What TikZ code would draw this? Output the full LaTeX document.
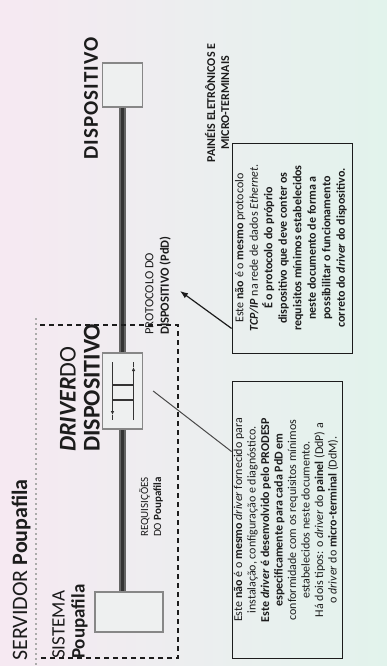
\documentclass[tikz,border=0pt]{standalone}
\usepackage{fontspec}
\setmainfont{Carlito}
\newfontfamily\spc[LetterSpace=5]{Carlito}
\usetikzlibrary{arrows.meta}
\definecolor{bgl}{RGB}{246,233,242}
\definecolor{bgr}{RGB}{226,243,236}
\definecolor{ink}{RGB}{28,28,28}
\definecolor{linedark}{RGB}{52,52,52}
\definecolor{lineout}{RGB}{100,100,100}
\definecolor{boxgray}{RGB}{135,135,135}
\definecolor{boxfill}{RGB}{238,240,240}
\begin{document}
\begin{tikzpicture}[x=1pt,y=-1pt,
  lbl/.style={rotate=90, inner sep=0pt, text=ink},
  devbox/.style={draw=boxgray, line width=1.3pt, fill=boxfill, inner sep=0pt},
  notebox/.style={draw=ink, line width=0.9pt, inner sep=0pt},
  notetext/.style={rotate=90, inner sep=0pt, text=ink, align=center},
  dashbox/.style={draw=ink, line width=1.8pt, dash pattern=on 5pt off 4pt},
  faintdot/.style={draw=boxgray!70, line width=1.2pt, dash pattern=on 2pt off 3pt},
  hline/.style={draw=linedark, line width=1.2pt},
  pointer/.style={draw=ink, line width=1.2pt},
]
\useasboundingbox (0,0) rectangle (387,666);
\shade[left color=bgl, right color=bgr] (0,0) rectangle (387,666);

% device boxes
\node[devbox, minimum width=40pt, minimum height=44pt] (dev) at (122.5,85) {};
\node[devbox, minimum width=68pt, minimum height=40pt] (sys) at (129,612) {};
% main line
\draw[lineout, line width=7pt] (dev.south) -- (dev.south |- sys.north);
\draw[linedark, line width=3.5pt] (dev.south) -- (dev.south |- sys.north);
% driver box
\node[devbox, minimum width=40pt, minimum height=76pt] (drv) at (122.5,391) {};
\draw[hline, -{Latex[length=4pt,width=3.5pt]}] ([shift={(-10,-29)}]drv.center) -- ([shift={(-10,24)}]drv.center);
\draw[hline] ([shift={(-10,24)}]drv.center) -- ([shift={(-10,29)}]drv.center);
\draw[hline, -{Latex[length=4pt,width=3.5pt]}] ([shift={(11,29)}]drv.center) -- ([shift={(11,-24)}]drv.center);
\draw[hline] ([shift={(11,-24)}]drv.center) -- ([shift={(11,-29)}]drv.center);
\draw[hline] ([shift={(-10,-6)}]drv.center) -- ([shift={(11,-6)}]drv.center);
\draw[hline] ([shift={(-10,9)}]drv.center) -- ([shift={(11,9)}]drv.center);

% server / system boundary
\draw[faintdot] (36,318) -- (36,666);
\draw[dashbox] (40,325) -- (178,325) -- (178,658) -- (40,658);

% note boxes
\node[notebox, minimum width=120pt, minimum height=210pt] (note1) at (292,248) {};
\node[notebox, minimum width=110pt, minimum height=277pt] (note2) at (287,519.5) {};

% labels
\node[lbl, anchor=west, font=\bfseries\spc\fontsize{21}{22}\selectfont] (devlbl) at (91,160) {DISPOSITIVO};
\node[lbl, anchor=center, align=center, font=\bfseries\fontsize{12}{14}\selectfont] (paineis) at (217,103) {PAINÉIS ELETRÔNICOS E\\MICRO-TERMINAIS};
\node[lbl, anchor=west, align=left, font=\fontsize{12.5}{15.5}\selectfont] (proto) at (158,335) {PROTOCOLO DO\\\textbf{DISPOSITIVO (PdD)}};
\node[lbl, anchor=west, font=\fontsize{22}{23}\selectfont] (servlbl) at (21,661) {SERVIDOR \textbf{Poupafila}};
\node[lbl, anchor=west, align=left, font=\fontsize{19}{20}\selectfont] (syslbl) at (70,659) {SISTEMA\\\textbf{Poupafila}};
\node[lbl, anchor=west, align=left, font=\fontsize{24}{24}\selectfont] (drvlbl) at (80,452) {\textbf{\textit{DRIVER}}DO\\\textbf{DISPOSITIVO}};
\node[lbl, anchor=west, align=left, font=\fontsize{11}{13}\selectfont] (reqlbl) at (151,537) {REQUISIÇÕES\\DO \textbf{Poupafila}};

% note texts
\node[notetext, font=\fontsize{12}{14.5}\selectfont] (note1txt) at (291,248) {Este \textbf{não} é o \textbf{mesmo} protocolo\\
\textbf{\textit{TCP/IP}} na rede de dados \textit{Ethernet}.\\
\textbf{É o protocolo do próprio}\\
\textbf{dispositivo que deve conter os}\\
\textbf{requisitos mínimos estabelecidos}\\
\textbf{neste documento de forma a}\\
\textbf{possibilitar o funcionamento}\\
\textbf{correto do \textit{driver} do dispositivo.}};
\node[notetext, font=\fontsize{12}{13.5}\selectfont] (note2txt) at (286,520) {Este \textbf{não} é o \textbf{mesmo} \textit{driver} fornecido para\\
instalação, configuração e diagnóstico.\\
\textbf{Este \textit{driver} é desenvolvido pelo PRODESP}\\
\textbf{especificamente para cada PdD em}\\
conformidade com os requisitos mínimos\\
estabelecidos neste documento.\\
Há dois tipos: o \textit{driver} do \textbf{painel} (DdP) a\\
o \textit{driver} do \textbf{micro-terminal} (DdM).};

% connectors
\coordinate (tipP) at (180,291);
\draw[pointer, -{Latex[length=8pt,width=6pt]}] ([yshift=25pt]note1.south west) -- (tipP);
\draw[draw=ink!80, line width=1pt] ([xshift=10pt]drv.east) -- ([yshift=-71pt]note2.north west);
\end{tikzpicture}
\end{document}
